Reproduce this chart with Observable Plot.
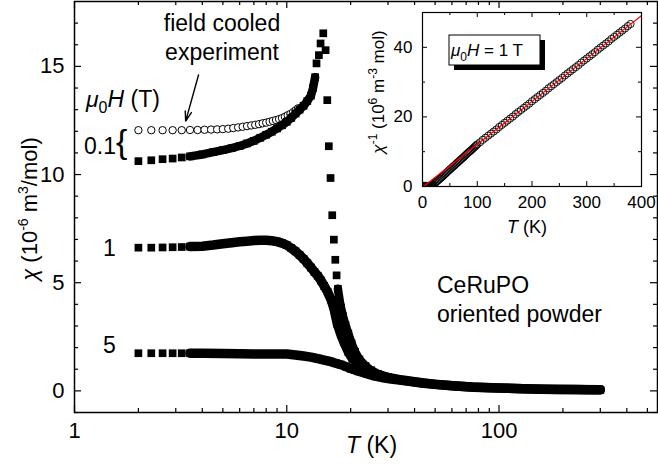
<!DOCTYPE html>
<html><head><meta charset="utf-8">
<script src="https://cdn.jsdelivr.net/npm/d3@7"></script>
<script src="https://cdn.jsdelivr.net/npm/@observablehq/plot@0.6"></script>
<style>
body{margin:0;background:#fff;}
#wrap{position:relative;width:658px;height:466px;}
#wrap svg{position:absolute;left:0;top:0;}
</style></head><body><div id="wrap"></div>
<script>
// ---------- data: main panel (chi in 1e-6 m^3/mol vs T in K) ----------
const fcT   = [2.0,2.3,2.6,2.9,3.2,3.5,3.8,4.1,4.4,4.7,5.0,5.3,5.6,5.9,6.2,6.5,6.8,7.1,7.4,7.7,8.0,8.3,8.6,8.9,9.2,9.5,9.8,10.1,10.4,10.7,11.0,11.3];
const fcChi = [12.05,12.05,12.05,12.05,12.05,12.06,12.06,12.07,12.08,12.09,12.10,12.12,12.15,12.18,12.21,12.24,12.27,12.30,12.33,12.37,12.40,12.44,12.48,12.52,12.56,12.61,12.67,12.74,12.80,12.88,12.97,13.06];

const zfcT   = [2.0,2.3,2.6,2.9,3.2,3.5,4.0,4.5,5.0,5.5,6.0,6.5,7.0,7.5,8.0,8.5,9.0,9.5,10.0,10.5,11.0,11.5,12.0,12.5,13.0,13.3,13.6,13.81,14.17,14.43,14.86,15.24,15.52,15.78,16.08,16.38,16.67,16.93,17.17,17.42,17.68,18.0,18.4,18.9,19.5,20.2,21.0,22.0,23.5,25,27,30];
const zfcChi = [10.62,10.66,10.71,10.74,10.79,10.84,10.93,11.04,11.13,11.22,11.32,11.44,11.56,11.70,11.84,11.98,12.13,12.28,12.44,12.62,12.82,13.00,13.18,13.40,13.65,14.00,14.50,15.14,15.52,16.06,16.53,15.75,13.44,11.31,9.84,8.12,6.99,6.06,5.34,4.72,4.26,3.85,3.45,3.05,2.65,2.20,1.80,1.45,1.15,0.95,0.78,0.62];

const oneT   = [2.0,2.3,2.6,2.9,3.2,3.5,4.0,4.5,5.0,5.5,6.0,6.5,7.0,7.5,8.0,8.5,9.0,9.5,10.0,10.5,11.0,11.5,12.0,12.5,13.0,13.5,14.0,14.5,15.0,15.6,16.2,16.7,17.3,18.0,18.6,19.5,20.4,21.5,23,25,27.5,30,35,40,50,60,75,100,130,170,220,300];
const oneChi = [6.62,6.62,6.63,6.64,6.65,6.67,6.69,6.74,6.80,6.85,6.89,6.92,6.95,6.96,6.96,6.94,6.90,6.83,6.74,6.60,6.45,6.28,6.10,5.90,5.70,5.50,5.32,5.10,4.85,4.56,4.20,3.80,3.10,2.60,2.25,1.80,1.48,1.30,1.05,0.85,0.72,0.62,0.50,0.42,0.30,0.24,0.18,0.13,0.10,0.08,0.065,0.055];

const fiveT   = [2.0,2.3,2.6,2.9,3.2,3.5,4,5,6,7,8,9,10,11,12,13,14,15,16,17,18,19,20,21,22,24,26,28,31,34,37,44,53,65,76,90,109,130,157,190,226,260,300];
const fiveChi = [1.74,1.74,1.74,1.74,1.74,1.74,1.74,1.73,1.72,1.71,1.71,1.71,1.70,1.66,1.61,1.56,1.49,1.42,1.36,1.28,1.21,1.12,1.03,0.96,0.90,0.78,0.68,0.62,0.55,0.50,0.45,0.35,0.28,0.21,0.17,0.14,0.12,0.10,0.08,0.068,0.06,0.055,0.05];

// ranges where the measured points are dense enough to merge into a band
const zfcDense  = [[3.5,13.6],[17.42,30]];
const oneDense  = [[3.5,300]];
const fiveDense = [[3.5,300]];

// ---------- data: inset (1/chi at 1 T, 1e6 m^-3 mol) ----------
const invT = [2,3,4,5,6,7,8,9,10,11,12,13,14,15,16,17,18,19,20,
  22,24,26,28,30,32,34,36,38,40,42,44,46,48,50,52,54,56,58,60,62,64,66,68,70,72,74,76,78,80,82,84,86,88,90,92,94,96,98,
  100,105,110,115,120,125,130,135,140,145,150,155,160,165,170,175,180,185,190,195,200,205,210,215,220,225,230,235,240,245,250,255,260,265,270,275,280,285,290,295,300,305,310,315,320,325,330,335,340,345,350,355,360,365,370,375,380];
const invV = [0.15,0.15,0.15,0.15,0.15,0.14,0.14,0.15,0.15,0.16,0.16,0.18,0.19,0.21,0.24,0.30,0.40,0.48,0.60,
  0.90,1.15,1.45,1.70,2.00,2.25,2.55,2.80,3.10,3.40,3.70,4.00,4.30,4.60,4.90,5.15,5.45,5.75,6.00,6.30,6.60,6.90,7.15,7.45,7.75,8.00,8.30,8.60,8.90,9.20,9.50,9.80,10.05,10.30,10.60,10.90,11.20,11.50,11.80,
  12.1,12.7,13.4,14.0,14.6,15.2,15.8,16.4,17.1,17.7,18.3,18.9,19.5,20.1,20.8,21.4,22.0,22.6,23.2,23.8,24.5,25.1,25.7,26.3,26.9,27.5,28.2,28.8,29.4,30.0,30.6,31.2,31.9,32.5,33.1,33.7,34.3,34.9,35.6,36.2,36.8,37.4,38.0,38.6,39.3,39.9,40.5,41.1,41.7,42.4,43.0,43.6,44.2,44.8,45.4,46.1,46.7];
const fitT = [1.8, 400];
const fitV = [0, 49.1];

// ---------- ticks ----------
const xMajor = [1,10,100];
const xMinor = [2,3,4,5,6,7,8,9,20,30,40,50,60,70,80,90,200,300,400,500];
const yMajor = [0,5,10,15];
const yMinor = [-1,1,2,3,4,6,7,8,9,11,12,13,14,16,17];
const ixMajor = [0,100,200,300,400];
const ixMinor = [50,150,250,350];
const iyMajor = [0,20,40];
const iyMinor = [10,30];

// annotation arrow (T, chi)
const arrowFrom = [3.84, 14.6];
const arrowTo   = [3.34, 12.47];

// ---------- build ----------
const FONT = "'Liberation Sans', Arial, Helvetica, sans-serif";
const W = 658, H = 466;
const rows = (T, V) => T.map((t, i) => ({T: t, v: V[i]}));
const banded = (d, ranges) => d.map(p => ({T: p.T, v: ranges.some(([a, b]) => p.T >= a && p.T <= b) ? p.v : NaN}));

const fc = rows(fcT, fcChi), zfc = rows(zfcT, zfcChi), one = rows(oneT, oneChi), five = rows(fiveT, fiveChi);

const M = {left: 74, right: 1, top: 1, bottom: 54};
const pw = W - M.left - M.right, ph = H - M.top - M.bottom;
const SQ = 4.35; // square symbol radius
const BAND = 9.5;

function ticksMarks(xMaj, xMin, yMaj, yMin, pw, ph, maj, min, sw) {
  const s = {stroke: "black", strokeWidth: sw};
  return [
    Plot.ruleX(xMaj, {x: d => d, insetTop: ph - maj, ...s}),
    Plot.ruleX(xMaj, {x: d => d, insetBottom: ph - maj, ...s}),
    Plot.ruleX(xMin, {x: d => d, insetTop: ph - min, ...s}),
    Plot.ruleX(xMin, {x: d => d, insetBottom: ph - min, ...s}),
    Plot.ruleY(yMaj, {y: d => d, insetRight: pw - maj, ...s}),
    Plot.ruleY(yMaj, {y: d => d, insetLeft: pw - maj, ...s}),
    Plot.ruleY(yMin, {y: d => d, insetRight: pw - min, ...s}),
    Plot.ruleY(yMin, {y: d => d, insetLeft: pw - min, ...s})
  ];
}

const main = Plot.plot({
  width: W, height: H,
  marginLeft: M.left, marginRight: M.right, marginTop: M.top, marginBottom: M.bottom,
  style: {fontFamily: FONT, background: "transparent", overflow: "visible", color: "black"},
  x: {type: "log", domain: [1, 558]},
  y: {domain: [-1, 18]},
  marks: [
    Plot.dot(fc, {x: "T", y: "v", r: 3.7, stroke: "black", strokeWidth: 1, fill: "white"}),
    Plot.line(banded(zfc, zfcDense), {x: "T", y: "v", stroke: "black", strokeWidth: BAND - 1}),
    Plot.line(banded(one, oneDense), {x: "T", y: "v", stroke: "black", strokeWidth: BAND}),
    Plot.line(banded(five, fiveDense), {x: "T", y: "v", stroke: "black", strokeWidth: BAND}),
    Plot.dot(zfc, {x: "T", y: "v", symbol: "square", r: SQ, fill: "black", stroke: null}),
    Plot.dot(one, {x: "T", y: "v", symbol: "square", r: SQ, fill: "black", stroke: null}),
    Plot.dot(five, {x: "T", y: "v", symbol: "square", r: SQ, fill: "black", stroke: null}),
    Plot.arrow([{x1: arrowFrom[0], y1: arrowFrom[1], x2: arrowTo[0], y2: arrowTo[1]}],
      {x1: "x1", y1: "y1", x2: "x2", y2: "y2", stroke: "black", strokeWidth: 1.4, headLength: 11, headAngle: 36}),
    ...ticksMarks(xMajor, xMinor, yMajor, yMinor, pw, ph, 7, 4, 1.2),
    Plot.frame({stroke: "black", strokeWidth: 1.5}),
    Plot.axisX(xMajor, {tickSize: 0, tickPadding: 10, fontSize: 22, tickFormat: d => String(d), label: null}),
    Plot.axisY(yMajor, {tickSize: 0, tickPadding: 10, fontSize: 22, tickFormat: d => String(d), label: null})
  ]
});

const IM = {left: 422, right: 17, top: 12, bottom: 280};
const ipw = W - IM.left - IM.right, iph = H - IM.top - IM.bottom;
const inv = rows(invT, invV);
const fit = rows(fitT, fitV);

const inset = Plot.plot({
  width: W, height: H,
  marginLeft: IM.left, marginRight: IM.right, marginTop: IM.top, marginBottom: IM.bottom,
  style: {fontFamily: FONT, background: "transparent", overflow: "visible", color: "black"},
  x: {domain: [0, 400]},
  y: {domain: [0, 50]},
  marks: [
    Plot.frame({fill: "white", stroke: null}),
    Plot.dot(inv, {x: "T", y: "v", r: 3.6, stroke: "black", strokeWidth: 0.9, fill: "none", clip: true}),
    Plot.line(fit, {x: "T", y: "v", stroke: "#ff0000", strokeWidth: 1.3, clip: true}),
    ...ticksMarks(ixMajor, ixMinor, iyMajor, iyMinor, ipw, iph, 5, 3, 1),
    Plot.frame({stroke: "black", strokeWidth: 1.2}),
    Plot.axisX(ixMajor, {tickSize: 0, tickPadding: 9, fontSize: 17, tickFormat: d => String(d), label: null}),
    Plot.axisY(iyMajor, {tickSize: 0, tickPadding: 10, fontSize: 17, tickFormat: d => String(d), label: null})
  ]
});

document.getElementById("wrap").append(main, inset);

// ---------- rich text labels ----------
function rich(svg, x, y, size, parts, opts = {}) {
  const t = d3.select(svg).append("text")
    .attr("x", x).attr("y", y)
    .attr("font-family", FONT).attr("font-size", size).attr("fill", "black")
    .attr("text-anchor", opts.anchor || "start");
  if (opts.rotate) t.attr("transform", `rotate(${opts.rotate},${x},${y})`);
  let shift = 0;
  for (const p of parts) {
    const s = t.append("tspan").text(p.t);
    const target = p.dy || 0;
    if (target !== shift) { s.attr("dy", target - shift); shift = target; }
    if (p.it) s.attr("font-style", "italic");
    if (p.size) s.attr("font-size", p.size);
  }
  return t;
}

// main panel texts
rich(main, 222, 31, 23, [{t: "field cooled"}], {anchor: "middle"});
rich(main, 222, 60, 23, [{t: "experiment"}], {anchor: "middle"});
rich(main, 86, 107, 23, [{t: "μ", it: 1}, {t: "0", size: 16, dy: 6}, {t: "H", it: 1}, {t: " (T)"}]);
rich(main, 84, 154, 23, [{t: "0.1"}]);
rich(main, 116, 153, 34, [{t: "{"}]);
rich(main, 103, 256, 23, [{t: "1"}]);
rich(main, 103, 353, 23, [{t: "5"}]);
rich(main, 437, 293, 23, [{t: "CeRuPO"}]);
rich(main, 437, 322, 23, [{t: "oriented powder"}]);
rich(main, 346, 453, 23, [{t: "T", it: 1}, {t: " (K)"}]);
rich(main, 37, 209, 22, [{t: "χ", it: 1}, {t: " (10"}, {t: "-6", size: 14, dy: -9}, {t: " m"}, {t: "3", size: 14, dy: -9}, {t: "/mol)"}], {anchor: "middle", rotate: -90});

// inset texts
const ig = d3.select(inset);
ig.append("rect").attr("x", 454).attr("y", 40).attr("width", 91).attr("height", 30).attr("fill", "black");
ig.append("rect").attr("x", 449).attr("y", 35).attr("width", 91).attr("height", 30).attr("fill", "white").attr("stroke", "black").attr("stroke-width", 1);
rich(inset, 451, 56, 17, [{t: "μ", it: 1}, {t: "0", size: 12, dy: 5}, {t: "H", it: 1}, {t: " = 1 T"}]);
rich(inset, 507, 233, 18, [{t: "T", it: 1}, {t: " (K)"}]);
rich(inset, 384, 92, 17, [{t: "χ", it: 1}, {t: "-1", size: 12, dy: -7}, {t: " (10"}, {t: "6", size: 12, dy: -7}, {t: " m"}, {t: "-3", size: 12, dy: -7}, {t: " mol)"}], {anchor: "middle", rotate: -90});
</script>
</body></html>
